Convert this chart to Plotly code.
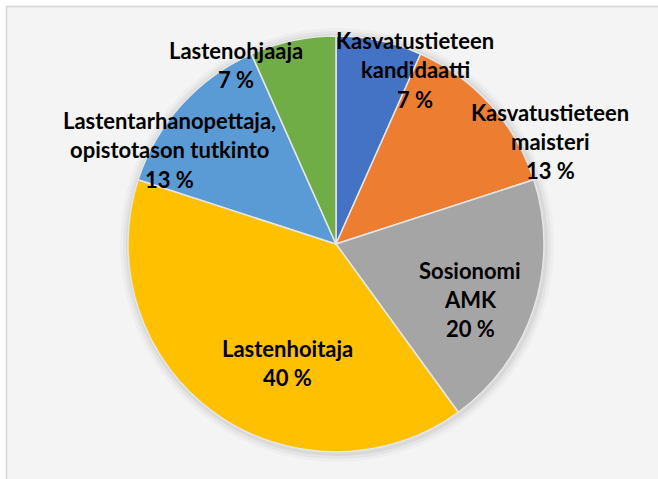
import plotly.graph_objects as go

# Tutkinto -> lukumäärä (osuudet 7 / 13 / 20 / 40 / 13 / 7 %)
categories = [
    "Kasvatustieteen kandidaatti",
    "Kasvatustieteen maisteri",
    "Sosionomi AMK",
    "Lastenhoitaja",
    "Lastentarhanopettaja, opistotason tutkinto",
    "Lastenohjaaja",
]
counts = [2, 4, 6, 12, 4, 2]
label_lines = [
    ["Kasvatustieteen", "kandidaatti"],
    ["Kasvatustieteen", "maisteri"],
    ["Sosionomi", "AMK"],
    ["Lastenhoitaja"],
    ["Lastentarhanopettaja,", "opistotason tutkinto"],
    ["Lastenohjaaja"],
]
colors = ["#4472C4", "#ED7D31", "#A5A5A5", "#FFC000", "#5B9BD5", "#70AD47"]

W, H = 658, 479
cx, cy, r = 336, 244, 208  # pie centre / radius in pixels
# label block centres in pixels (Excel "best fit" positions)
label_pos = [(415, 70), (550, 141), (470, 299), (287, 363), (169, 150), (236, 65)]
line_h = 29

def px(x):
    return x / W

def py(y):
    return 1 - y / H

total = sum(counts)
pct = [round(100 * c / total) for c in counts]

fig = go.Figure(go.Pie(
    labels=categories,
    values=counts,
    sort=False,
    direction="clockwise",
    rotation=0,
    marker=dict(colors=colors, line=dict(color="#e6e6e6", width=1.5)),
    textinfo="none",
    hoverinfo="label+percent",
    domain=dict(x=[px(cx - r), px(cx + r)], y=[py(cy + r), py(cy - r)]),
    showlegend=False,
))

shapes = [dict(type="rect", xref="paper", yref="paper",
               x0=px(6.5), x1=1.02, y0=-0.02, y1=py(6.5),
               fillcolor="#f4f4f4", line=dict(color="#d6d6d6", width=1.5),
               layer="below")]
# soft shadow around the pie
for d, a in [(9, 0.025), (6, 0.035), (3, 0.05)]:
    shapes.append(dict(type="circle", xref="paper", yref="paper",
                       x0=px(cx - r - d + 1), x1=px(cx + r + d + 1),
                       y0=py(cy + r + d + 1), y1=py(cy - r - d + 1),
                       fillcolor=f"rgba(0,0,0,{a})", line=dict(width=0),
                       layer="below"))

annotations = []
for lines, p, (lx, ly) in zip(label_lines, pct, label_pos):
    rows = lines + [f"{p} %"]
    n = len(rows)
    for i, t in enumerate(rows):
        yy = ly + (i - (n - 1) / 2) * line_h
        annotations.append(dict(
            x=px(lx), y=py(yy), xref="paper", yref="paper",
            text=t, showarrow=False, xanchor="center", yanchor="middle",
            font=dict(family="Lato", size=22, color="#000000", weight="bold"),
        ))

fig.update_layout(
    width=W, height=H,
    margin=dict(l=0, r=0, t=0, b=0),
    paper_bgcolor="#ffffff",
    shapes=shapes,
    annotations=annotations,
)

fig.write_html("out.html", config={"displayModeBar": False},
               post_script="document.body.style.margin='0';document.body.style.overflow='hidden';")
